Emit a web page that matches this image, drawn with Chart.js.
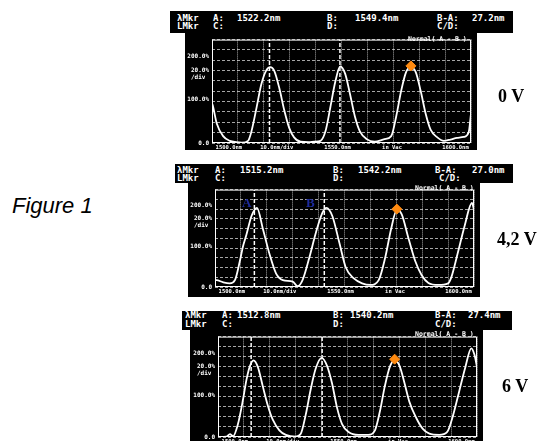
<!DOCTYPE html>
<html>
<head>
<meta charset="utf-8">
<script src="https://cdn.jsdelivr.net/npm/chart.js@4"></script>
<style>
  body { margin: 0; width: 541px; height: 441px; overflow: hidden; background: #fff; position: relative; }
  .abs { position: absolute; white-space: pre; line-height: 1; }
  .blk { position: absolute; background: #000; }
  .mono { font-family: "DejaVu Sans Mono", monospace; color: #fff; font-size: 9px; font-weight: bold; }
  .norm { font-family: "DejaVu Sans Mono", monospace; color: #fff; font-size: 6.5px; font-weight: bold; }
  .volt { font-family: "Liberation Serif", serif; font-weight: bold; font-size: 18px; color: #000; }
  .fig { font-family: "Liberation Sans", Arial, sans-serif; font-style: italic; font-size: 22px; color: #000; }
  .blue { font-family: "Liberation Serif", serif; font-size: 13px; font-weight: bold; color: #1c2a9c; }
</style>
</head>
<body>
<script>
// spectrum, 0 V
const wl0 = [1500, 1500.3, 1501.8, 1504.3, 1506.9, 1509.4, 1511.5, 1513.9, 1515.1, 1517.0,
             1519.0, 1520.9, 1522.5, 1524.0, 1526.0, 1527.9, 1529.8, 1531.7, 1534.2, 1537.4,
             1539.5, 1541.9, 1543.8, 1545.7, 1547.6, 1549.5, 1551.4, 1553.3, 1555.2, 1557.1,
             1559.7, 1562.8, 1566.6, 1569.2, 1571.1, 1573.0, 1574.9, 1576.8, 1578.7, 1580.6,
             1582.5, 1584.4, 1587.0, 1589.5, 1592.1, 1594.6, 1597.2, 1599.1, 1600];
const pw0 = [92, 87, 46, 16, 5, 2, 1, 5, 24, 76,
             135, 168, 176, 168, 127, 76, 35, 13, 3, 2,
             3, 5, 27, 83, 142, 178, 161, 113, 61, 27,
             9, 3, 9, 16, 61, 120, 164, 176, 164, 120,
             68, 31, 13, 5, 8, 12, 14, 25, 68];

// spectrum, 4,2 V
const wl1 = [1500, 1500.6, 1503, 1505.7, 1507.7, 1509.6, 1510.8, 1512.1, 1514.1, 1516.2,
             1518.5, 1521.1, 1523.6, 1526.2, 1530, 1531.9, 1533.8, 1536.4, 1539, 1541.5,
             1543, 1545.3, 1547.9, 1550.5, 1553.6, 1556.8, 1560, 1563.2, 1565.7, 1568,
             1570.2, 1572.1, 1574.7, 1577.3, 1579.8, 1582.4, 1586.2, 1590, 1591.3, 1593.9,
             1596.4, 1599.2, 1600];
const pw1 = [17, 17, 12, 9, 17, 64, 100, 128, 175, 195,
             143, 80, 33, 17, 13, 2, 17, 72, 135, 183,
             195, 175, 112, 48, 21, 9, 5, 17, 72, 143,
             190, 179, 120, 64, 29, 10, 5, 9, 25, 88,
             151, 207, 190];

// spectrum, 6 V
const wl2 = [1500, 1503.3, 1504.6, 1505.8, 1507.7, 1509.7, 1511, 1512.2, 1513.7, 1515.4,
             1517.3, 1519.2, 1521.1, 1523.7, 1526.2, 1530, 1531.9, 1533.9, 1535.8, 1537.7,
             1540, 1542.1, 1544, 1546, 1547.9, 1550.4, 1554.2, 1558, 1560.6, 1562.5,
             1564.4, 1566.3, 1568.2, 1570.1, 1572, 1573.9, 1576.5, 1579, 1581.6, 1585.4,
             1588.5, 1590.5, 1593, 1595.5, 1597.8, 1599, 1600];
const pw2 = [0, 1, 7, 2, 31, 91, 137, 167, 183, 167,
             121, 76, 42, 16, 5, 1, 7, 54, 114, 163,
             189, 170, 129, 69, 31, 12, 5, 5, 16, 61,
             121, 167, 183, 170, 129, 84, 46, 20, 8, 5,
             12, 46, 106, 167, 212, 197, 167];

const markerA = [1522.2, 1515.2, 1512.8];
const markerB = [1549.4, 1542.2, 1540.2];
const textA = ['1522.2nm', '1515.2nm', '1512.8nm'];
const textB = ['1549.4nm', '1542.2nm', '1540.2nm'];
const textBA = ['27.2nm', '27.0nm', '27.4nm'];
const voltages = ['0 V', '4,2 V', '6 V'];
const diamondX = [1576.8, 1570.2, 1568.2];
const diamondY = [179, 192, 186];

const yTickVals = [0, 100, 160, 200];
const yTickText = ['0.0', '100.0%', ['20.0%', '/div '], '200.0%'];
const xTickVals = [1506.5, 1525, 1548.5, 1569.5, 1594];
const xTickText = ['1500.0nm', '10.0nm/div', '1550.0nm', 'in Vac', '1600.0nm'];

const series = [[wl0, pw0], [wl1, pw1], [wl2, pw2]];

// screen layout of each analyser shot
const layout = [
  { hdr: [170, 11, 343, 22], rows: [18.3, 26.7], cols: [177, 213, 237, 327, 355, 437, 472, 437],
    box: [185, 33, 292, 117], grid: [212, 36, 474, 143], norm: [408, 39], volt: [498, 86.6] },
  { hdr: [175, 164, 338, 19], rows: [170, 178.5], cols: [177, 215, 240, 333, 358, 435, 472, 439],
    box: [188, 183, 292, 114], grid: [215, 186, 476, 287], norm: [415, 188], volt: [497, 230] },
  { hdr: [182, 311, 330, 19], rows: [315, 324.5], cols: [185, 222, 237, 333, 350, 435, 468, 435],
    box: [190, 330, 293, 122], grid: [218, 331, 480, 437], norm: [415, 334], volt: [502, 376.6] }
];

function put(x, y, text, cls) {
  const d = document.createElement('div');
  d.className = 'abs ' + cls;
  d.style.left = x + 'px';
  d.style.top = y + 'px';
  d.textContent = text;
  document.body.appendChild(d);
  return d;
}

function block(r) {
  const d = document.createElement('div');
  d.className = 'blk';
  d.style.left = r[0] + 'px';
  d.style.top = r[1] + 'px';
  d.style.width = r[2] + 'px';
  d.style.height = r[3] + 'px';
  document.body.appendChild(d);
  return d;
}

const framePlugin = {
  id: 'frame',
  beforeDatasetsDraw(chart) {
    const { ctx, chartArea: a } = chart;
    ctx.save();
    ctx.strokeStyle = '#fff';
    ctx.lineWidth = 1;
    ctx.strokeRect(a.left + 0.5, a.top + 0.5, a.width - 1, a.height - 1);
    ctx.restore();
  }
};

put(12, 195, 'Figure 1', 'fig');

layout.forEach((L, k) => {
  block(L.hdr);
  const c = L.cols, r1 = L.rows[0] - 4.3, r2 = L.rows[1] - 4.3;
  put(c[0], r1, 'λMkr', 'mono');
  put(c[0], r2, 'LMkr', 'mono');
  put(c[1], r1, 'A:', 'mono');
  put(c[1], r2, 'C:', 'mono');
  put(c[2], r1, textA[k], 'mono');
  put(c[3], r1, 'B:', 'mono');
  put(c[3], r2, 'D:', 'mono');
  put(c[4], r1, textB[k], 'mono');
  put(c[5], r1, 'B-A:', 'mono');
  put(c[6], r1, textBA[k], 'mono');
  put(c[7], r2, 'C/D:', 'mono');

  const box = L.box, g = L.grid;
  const holder = block(box);
  const cv = document.createElement('canvas');
  cv.width = box[2];
  cv.height = box[3];
  holder.appendChild(cv);

  const yw = g[0] - box[0];
  const xh = box[1] + box[3] - g[3];
  const [wl, pw] = series[k];

  new Chart(cv.getContext('2d'), {
    type: 'line',
    data: {
      datasets: [
        {
          data: [{ x: diamondX[k], y: diamondY[k] }],
          showLine: false, pointStyle: 'rectRot', pointRadius: 5,
          backgroundColor: '#ff8a10', borderColor: '#ff8a10'
        },
        {
          data: wl.map((x, i) => ({ x: x, y: pw[i] })),
          borderColor: '#fff', borderWidth: 1.8, pointRadius: 0,
          cubicInterpolationMode: 'monotone'
        },
        {
          data: [{ x: markerA[k], y: 0 }, { x: markerA[k], y: 240 }],
          borderColor: '#fff', borderWidth: 1.5, borderDash: [4, 2], pointRadius: 0
        },
        {
          data: [{ x: markerB[k], y: 0 }, { x: markerB[k], y: 240 }],
          borderColor: '#fff', borderWidth: 1.5, borderDash: [4, 2], pointRadius: 0
        }
      ]
    },
    options: {
      responsive: false,
      animation: false,
      devicePixelRatio: 1,
      layout: { padding: { left: 0, top: g[1] - box[1], right: box[0] + box[2] - g[2], bottom: 0 } },
      plugins: { legend: { display: false }, tooltip: { enabled: false } },
      scales: {
        x: {
          type: 'linear', min: 1500, max: 1600, position: 'bottom',
          grid: { display: false, drawTicks: false }, border: { display: false },
          afterBuildTicks: (s) => { s.ticks = xTickVals.map((v) => ({ value: v })); },
          ticks: {
            color: '#fff', font: { family: 'DejaVu Sans Mono', size: 5.5, weight: 'bold' }, padding: 1,
            autoSkip: false, maxRotation: 0, callback: (v, i) => xTickText[i]
          },
          afterFit: (s) => { s.height = xh; }
        },
        xg: {
          type: 'linear', min: 1500, max: 1600, position: 'bottom',
          ticks: { display: false, stepSize: 10 },
          grid: { color: 'rgba(255,255,255,0.65)', drawTicks: false },
          border: { display: false, dash: [1, 1] },
          afterFit: (s) => { s.height = 0; }
        },
        y: {
          type: 'linear', min: 0, max: 240, position: 'left',
          grid: { display: false, drawTicks: false }, border: { display: false },
          afterBuildTicks: (s) => { s.ticks = yTickVals.map((v) => ({ value: v })); },
          ticks: {
            color: '#fff', font: { family: 'DejaVu Sans Mono', size: 6, weight: 'bold' }, padding: 3,
            autoSkip: false, callback: (v, i) => yTickText[i]
          },
          afterFit: (s) => { s.width = yw; }
        },
        yg: {
          type: 'linear', min: 0, max: 240, position: 'left',
          ticks: { display: false, stepSize: 24 },
          grid: { color: 'rgba(255,255,255,0.65)', drawTicks: false },
          border: { display: false, dash: [3, 2] },
          afterFit: (s) => { s.width = 0; }
        }
      }
    },
    plugins: [framePlugin]
  });

  put(L.norm[0], L.norm[1] - 3, 'Normal( A - B )', 'norm');
  put(L.volt[0], L.volt[1], voltages[k], 'volt');
});

put(242, 196, 'A', 'blue');
put(306, 196, 'B', 'blue');
</script>
</body>
</html>
